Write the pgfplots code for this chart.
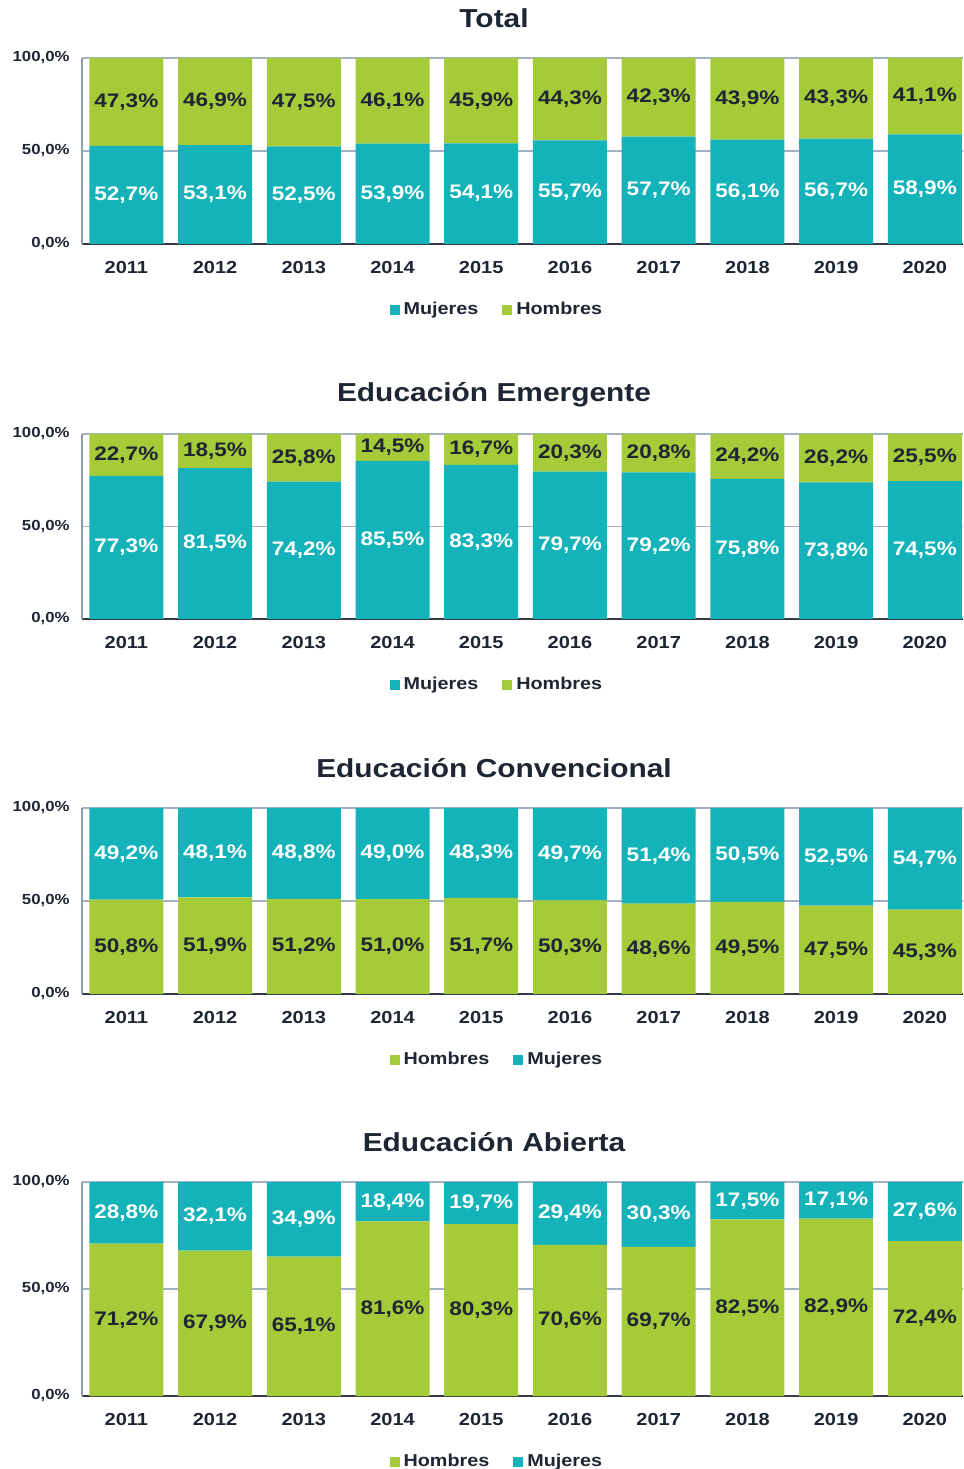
\documentclass[border=0pt]{standalone}
\usepackage{pgfplots}
\pgfplotsset{compat=1.18}
\usepackage{pgfplotstable}
\usepackage{fontspec}
\setmainfont{Liberation Sans}[FakeStretch=1.15]
\definecolor{teal1}{HTML}{13B3B9}
\definecolor{green1}{HTML}{A6CB39}
\definecolor{txt}{HTML}{1E2533}
\definecolor{frame}{HTML}{8D9DB5}
\newcommand\fs[1]{\fontsize{#1}{#1}\selectfont\bfseries}

% x: year index, m: Mujeres, h: Hombres
\pgfplotstableread{
x m h
0 52.7 47.3
1 53.1 46.9
2 52.5 47.5
3 53.9 46.1
4 54.1 45.9
5 55.7 44.3
6 57.7 42.3
7 56.1 43.9
8 56.7 43.3
9 58.9 41.1
}\tabTotal
\pgfplotstableread{
x m h
0 77.3 22.7
1 81.5 18.5
2 74.2 25.8
3 85.5 14.5
4 83.3 16.7
5 79.7 20.3
6 79.2 20.8
7 75.8 24.2
8 73.8 26.2
9 74.5 25.5
}\tabEmerg
\pgfplotstableread{
x h m
0 50.8 49.2
1 51.9 48.1
2 51.2 48.8
3 51.0 49.0
4 51.7 48.3
5 50.3 49.7
6 48.6 51.4
7 49.5 50.5
8 47.5 52.5
9 45.3 54.7
}\tabConv
\pgfplotstableread{
x h m
0 71.2 28.8
1 67.9 32.1
2 65.1 34.9
3 81.6 18.4
4 80.3 19.7
5 70.6 29.4
6 69.7 30.3
7 82.5 17.5
8 82.9 17.1
9 72.4 27.6
}\tabAbier

\pgfplotsset{
  base/.style={
    scale only axis, width=440.5pt,
    xmin=-0.5, xmax=9.43, ymin=0, ymax=100,
  },
  panel/.style={
    base,
    ybar stacked, bar width=37pt,
    xtick={0,1,2,3,4,5,6,7,8,9},
    xticklabels={2011,2012,2013,2014,2015,2016,2017,2018,2019,2020},
    ytick={0,50,100},
    yticklabels={{0,0\%},{50,0\%},{100,0\%}},
    major tick length=0pt,
    axis x line=bottom, axis y line=left,
    x axis line style={-, draw=txt!90, line width=0.8pt},
    y axis line style={-, draw=frame, line width=0.6pt},
    ymajorgrids, grid style={draw=frame!80, line width=0.6pt},
    xticklabel style={font=\fs{8.7}, text=txt, anchor=center, yshift=-12pt},
    yticklabel style={font=\fs{7.3}, text=txt, anchor=east, inner sep=0pt, xshift=-6pt},
    title style={font=\fs{13}, text=txt, at={(0.4677,1)}, anchor=center, yshift=13.8pt},
    legend style={at={(0.472,0)}, anchor=center, yshift=-33pt, draw=none, fill=none,
      font=\fs{8.6}, text=txt, legend columns=2,
      /tikz/every even column/.append style={column sep=10pt}},
  },
  labels/.style={base, hide axis, clip=false},
  tealbar/.style={fill=teal1, draw=none,
    legend image code/.code={\fill[teal1] (0pt,-2.5pt) rectangle (5pt,2.5pt);}},
  greenbar/.style={fill=green1, draw=none,
    legend image code/.code={\fill[green1] (0pt,-2.5pt) rectangle (5pt,2.5pt);}},
  vlab/.style={draw=none, mark=none, nodes near coords, point meta=explicit,
    nodes near coords={\pgfmathprintnumber[fixed,fixed zerofill,precision=1,use comma,assume math mode=true]{\pgfplotspointmeta}\%},
    every node near coord/.append style={anchor=center, font=\fs{9.8}, text=#1, inner sep=0pt}},
}

\begin{document}
\begin{tikzpicture}
% ---------- Panel 1: Total ----------
\begin{axis}[panel, height=93pt, at={(41pt,612.5pt)}, anchor=south west, title={Total}]
\addplot[tealbar] table[x=x, y=m] \tabTotal;
\addplot[greenbar] table[x=x, y=h] \tabTotal;
\legend{Mujeres, Hombres}
\end{axis}
\begin{axis}[labels, height=93pt, at={(41pt,612.5pt)}, anchor=south west]
\addplot[vlab=white] table[x=x, y expr=\thisrow{m}/2, meta=m] \tabTotal;
\addplot[vlab=txt] table[x=x, y expr=\thisrow{m}+\thisrow{h}/2, meta=h] \tabTotal;
\end{axis}
% ---------- Panel 2: Educación Emergente ----------
\begin{axis}[panel, height=92.5pt, at={(41pt,425pt)}, anchor=south west, title={Educación Emergente}]
\addplot[tealbar] table[x=x, y=m] \tabEmerg;
\addplot[greenbar] table[x=x, y=h] \tabEmerg;
\legend{Mujeres, Hombres}
\end{axis}
\begin{axis}[labels, height=92.5pt, at={(41pt,425pt)}, anchor=south west]
\addplot[vlab=white] table[x=x, y expr=\thisrow{m}/2, meta=m] \tabEmerg;
\addplot[vlab=txt] table[x=x, y expr=\thisrow{m}+\thisrow{h}/2, meta=h] \tabEmerg;
\end{axis}
% ---------- Panel 3: Educación Convencional ----------
\begin{axis}[panel, height=93pt, at={(41pt,237.5pt)}, anchor=south west, title={Educación Convencional}]
\addplot[greenbar] table[x=x, y=h] \tabConv;
\addplot[tealbar] table[x=x, y=m] \tabConv;
\legend{Hombres, Mujeres}
\end{axis}
\begin{axis}[labels, height=93pt, at={(41pt,237.5pt)}, anchor=south west]
\addplot[vlab=txt] table[x=x, y expr=\thisrow{h}/2, meta=h] \tabConv;
\addplot[vlab=white] table[x=x, y expr=\thisrow{h}+\thisrow{m}/2, meta=m] \tabConv;
\end{axis}
% ---------- Panel 4: Educación Abierta ----------
\begin{axis}[panel, height=107pt, at={(41pt,36.5pt)}, anchor=south west, title={Educación Abierta}]
\addplot[greenbar] table[x=x, y=h] \tabAbier;
\addplot[tealbar] table[x=x, y=m] \tabAbier;
\legend{Hombres, Mujeres}
\end{axis}
\begin{axis}[labels, height=107pt, at={(41pt,36.5pt)}, anchor=south west]
\addplot[vlab=txt] table[x=x, y expr=\thisrow{h}/2, meta=h] \tabAbier;
\addplot[vlab=white] table[x=x, y expr=\thisrow{h}+\thisrow{m}/2, meta=m] \tabAbier;
\end{axis}
\pgfresetboundingbox
\path (0,0) rectangle (482pt,734.5pt);
\end{tikzpicture}
\end{document}
